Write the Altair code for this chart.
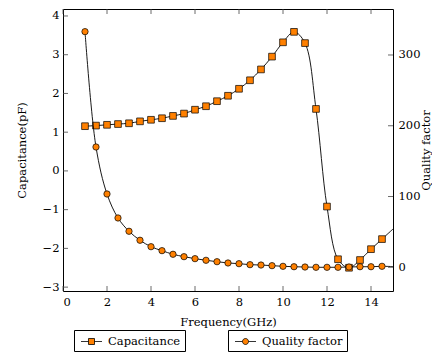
import altair as alt
import pandas as pd

# ---- data ----
freq = [1.0, 1.5, 2.0, 2.5, 3.0, 3.5, 4.0, 4.5, 5.0, 5.5, 6.0, 6.5, 7.0, 7.5,
        8.0, 8.5, 9.0, 9.5, 10.0, 10.5, 11.0, 11.5, 12.0, 12.5, 13.0, 13.5, 14.0, 14.5]
capacitance = [1.155, 1.17, 1.19, 1.21, 1.23, 1.28, 1.32, 1.36, 1.42, 1.48, 1.58, 1.67,
               1.80, 1.94, 2.12, 2.34, 2.62, 2.95, 3.32, 3.59, 3.30, 1.60, -0.92, -2.28,
               -2.50, -2.30, -2.02, -1.76]
quality = [333, 170, 103.6, 69.7, 50.9, 38.2, 29.1, 23.5, 18.4, 15.0, 12.2, 9.9, 7.9, 6.1,
           5.1, 3.7, 3.2, 2.3, 1.4, 0.8, 0.4, 0.0, 0.0, 0.0, 0.4, 0.8, 0.8, 1.4]
# curve continues (without a marker) to the right edge
end_freq = [15.0]
end_cap = [-1.50]
end_quality = [1.0]

x_ticks = [0, 2, 4, 6, 8, 10, 12, 14]
cap_ticks = [-3, -2, -1, 0, 1, 2, 3, 4]
q_ticks = [0, 100, 200, 300]

FONT = "DejaVu Serif"
FS = 11.5
ORANGE = "#ff8000"
W, H = 330, 282

pts = pd.DataFrame({"freq": freq, "cap": capacitance, "q": quality,
                    "s1": "Capacitance", "s2": "Quality factor"})
lines = pd.DataFrame({"freq": freq + end_freq, "cap": capacitance + end_cap,
                      "q": quality + end_quality})
xt = pd.DataFrame({"v": x_ticks})
ct = pd.DataFrame({"v": cap_ticks})
qt = pd.DataFrame({"v": q_ticks})

x_scale = alt.Scale(domain=[0, 15], nice=False, zero=False)
c_scale = alt.Scale(domain=[-3.10, 4.18], nice=False, zero=False)
q_scale = alt.Scale(domain=[-33.5, 365], nice=False, zero=False)

x_axis = alt.Axis(values=x_ticks, format="d", title="Frequency(GHz)", ticks=False,
                  domain=False, grid=False, labelPadding=5, titleY=31,
                  titleBaseline="middle")
c_axis = alt.Axis(values=cap_ticks, format="d", title="Capacitance(pF)", ticks=False,
                  domain=False, grid=False, labelPadding=4, titleX=-41, titleY=H / 2,
                  titleAngle=270, titleBaseline="middle", titleAlign="center")
q_axis = alt.Axis(orient="right", values=q_ticks, format="d", title="Quality factor",
                  ticks=False, domain=False, grid=False, labelPadding=5, titleX=33,
                  titleY=H / 2, titleAngle=270, titleBaseline="middle",
                  titleAlign="center")

# legend glyphs: short line with the marker in the middle (unit box scaled by 7px)
SQ_PATH = "M-1.5,0H-0.43M0.43,0H1.5M-0.43,-0.43H0.43V0.43H-0.43Z"
CI_PATH = ("M-1.5,0H-0.43M0.43,0H1.5M0.43,0A0.43,0.43,0,1,1,-0.43,0"
           "A0.43,0.43,0,1,1,0.43,0Z")


def make_legend(path, lx):
    return alt.Legend(title=None, orient="none", legendX=lx, legendY=321,
                      symbolType=path, symbolSize=196, symbolStrokeColor="black",
                      symbolStrokeWidth=0.8, symbolFillColor=ORANGE,
                      symbolOffset=6, strokeColor="black", padding=4, cornerRadius=0,
                      labelFont=FONT, labelFontSize=FS, labelColor="black",
                      labelOffset=9, fillColor="white")


X = alt.X("freq:Q", scale=x_scale, axis=x_axis)

cap_line = alt.Chart(lines).mark_line(color="black", strokeWidth=0.9,
                                      interpolate="catmull-rom", clip=True).encode(
    x=X, y=alt.Y("cap:Q", scale=c_scale, axis=c_axis))
cap_pts = alt.Chart(pts).mark_point(shape="square", filled=True, size=45, stroke="black",
                                    strokeWidth=0.7, opacity=1).encode(
    x=X, y=alt.Y("cap:Q", scale=c_scale, axis=c_axis),
    fill=alt.Fill("s1:N", scale=alt.Scale(range=[ORANGE]),
                  legend=make_legend(SQ_PATH, 11)))
c_ticks = alt.Chart(ct).mark_rule(color="#444", strokeWidth=0.8).encode(
    y=alt.Y("v:Q", scale=c_scale, axis=c_axis), x=alt.value(0), x2=alt.value(5))

q_line = alt.Chart(lines).mark_line(color="black", strokeWidth=0.9,
                                    interpolate="catmull-rom", clip=True).encode(
    x=X, y=alt.Y("q:Q", scale=q_scale, axis=q_axis))
q_pts = alt.Chart(pts).mark_point(shape="circle", filled=True, size=40, stroke="black",
                                  strokeWidth=0.7, opacity=1).encode(
    x=X, y=alt.Y("q:Q", scale=q_scale, axis=q_axis),
    fill=alt.Fill("s2:N", scale=alt.Scale(range=[ORANGE]),
                  legend=make_legend(CI_PATH, 165)))
q_ticks_l = alt.Chart(qt).mark_rule(color="#444", strokeWidth=0.8).encode(
    y=alt.Y("v:Q", scale=q_scale, axis=q_axis), x=alt.value(W), x2=alt.value(W - 5))

x_bot = alt.Chart(xt).mark_rule(color="#444", strokeWidth=0.8).encode(
    x=alt.X("v:Q", scale=x_scale, axis=x_axis), y=alt.value(H), y2=alt.value(H - 5))
x_top = alt.Chart(xt).mark_rule(color="#444", strokeWidth=0.8).encode(
    x=alt.X("v:Q", scale=x_scale, axis=x_axis), y=alt.value(0), y2=alt.value(5))

left = alt.layer(cap_line, cap_pts, c_ticks)
right = alt.layer(q_line, q_pts, q_ticks_l)

chart = alt.layer(left, right, x_bot, x_top).resolve_scale(
    y="independent", fill="independent"
).resolve_legend(fill="independent").properties(
    width=W, height=H,
    padding={"left": 55, "top": 1, "right": 39, "bottom": 63},
    autosize=alt.AutoSizeParams(type="none"),
).configure_view(stroke="black", strokeWidth=1).configure_axis(
    labelFont=FONT, labelFontSize=FS, labelColor="black",
    titleFont=FONT, titleFontSize=FS, titleColor="black", titleFontWeight="normal",
)

chart.save("out.html", embed_options={"renderer": "svg", "actions": False})
